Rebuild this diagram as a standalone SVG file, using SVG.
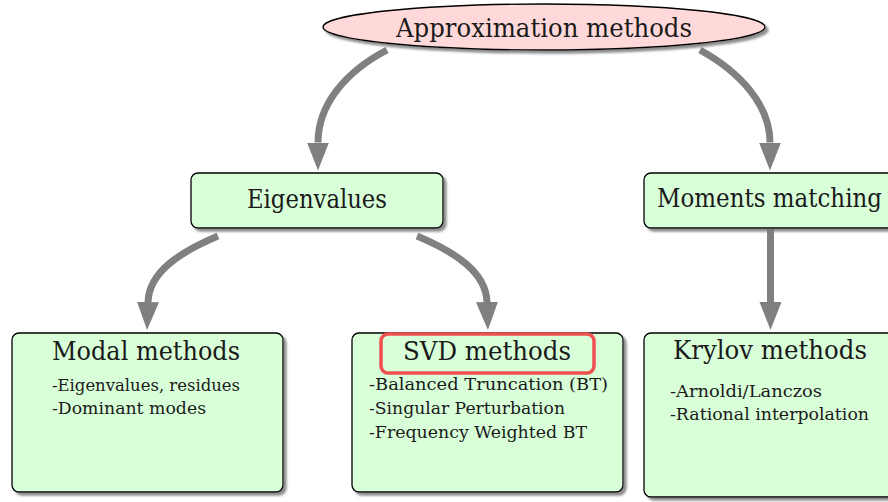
<svg xmlns="http://www.w3.org/2000/svg" width="888" height="502" viewBox="0 0 888 502">
<style>
.box{fill:#d9ffd9;stroke:#000;stroke-width:1.3}
.ell{fill:#ffd9d9;stroke:#000;stroke-width:1.3}
.hd{font-family:'DejaVu Serif',serif;font-size:26px;fill:#1a1a1a}
.sm{font-family:'DejaVu Serif',serif;font-size:16px;fill:#1a1a1a}
.con{fill:none;stroke:#808080;stroke-width:7}
</style>
<defs>
<filter id="sh" x="-10%" y="-10%" width="130%" height="140%">
<feGaussianBlur in="SourceAlpha" stdDeviation="1.2"/>
<feOffset dx="3" dy="3" result="b"/>
<feFlood flood-color="#7a7a7a" flood-opacity="0.85"/>
<feComposite in2="b" operator="in"/>
<feMerge><feMergeNode/><feMergeNode in="SourceGraphic"/></feMerge>
</filter>
<marker id="ah" markerUnits="userSpaceOnUse" markerWidth="30" markerHeight="24" refX="0" refY="11" orient="auto" viewBox="0 0 30 24">
<path d="M0,0 L28,11 L0,22 z" fill="#808080"/>
</marker>
</defs>
<g id="connectors">
<path class="con" marker-end="url(#ah)" d="M387,50 C345,72 318,105 318,142.5"/>
<path class="con" marker-end="url(#ah)" d="M700,50 C740,72 770,105 770,142.5"/>
<path class="con" marker-end="url(#ah)" d="M218,236 C180,252 149,272 148,302"/>
<path class="con" marker-end="url(#ah)" d="M417,236 C455,252 486,272 487,302"/>
<path class="con" marker-end="url(#ah)" d="M770.5,229 L770.5,302"/>
</g>
<g id="approx">
<ellipse class="ell" filter="url(#sh)" cx="544" cy="27" rx="221" ry="23"/>
<text class="hd" x="396" y="37" textLength="296" lengthAdjust="spacingAndGlyphs">Approximation methods</text>
</g>
<g id="eigen">
<rect class="box" filter="url(#sh)" x="191" y="173" width="252" height="55" rx="7"/>
<text class="hd" x="247" y="208" textLength="140" lengthAdjust="spacingAndGlyphs">Eigenvalues</text>
</g>
<g id="moments">
<rect class="box" filter="url(#sh)" x="644" y="173" width="270" height="55" rx="7"/>
<text class="hd" x="657" y="207" textLength="225" lengthAdjust="spacingAndGlyphs">Moments matching</text>
</g>
<g id="modal">
<rect class="box" filter="url(#sh)" x="12" y="333" width="271" height="159" rx="7"/>
<text class="hd" x="52" y="360" textLength="188" lengthAdjust="spacingAndGlyphs">Modal methods</text>
<text class="sm" x="52" y="391" textLength="188" lengthAdjust="spacingAndGlyphs">-Eigenvalues, residues</text>
<text class="sm" x="52" y="414" textLength="154" lengthAdjust="spacingAndGlyphs">-Dominant modes</text>
</g>
<g id="svd">
<rect class="box" filter="url(#sh)" x="352" y="333" width="271" height="159" rx="7"/>
<rect x="381" y="334" width="213" height="39" rx="7" fill="none" stroke="#f05050" stroke-width="3.5"/>
<text class="hd" x="403" y="360" textLength="168" lengthAdjust="spacingAndGlyphs">SVD methods</text>
<text class="sm" x="369" y="390" textLength="239" lengthAdjust="spacingAndGlyphs">-Balanced Truncation (BT)</text>
<text class="sm" x="369" y="414" textLength="196" lengthAdjust="spacingAndGlyphs">-Singular Perturbation</text>
<text class="sm" x="369" y="438" textLength="218" lengthAdjust="spacingAndGlyphs">-Frequency Weighted BT</text>
</g>
<g id="krylov">
<rect class="box" filter="url(#sh)" x="644" y="333" width="270" height="164" rx="7"/>
<text class="hd" x="673" y="359" textLength="194" lengthAdjust="spacingAndGlyphs">Krylov methods</text>
<text class="sm" x="670" y="397" textLength="152" lengthAdjust="spacingAndGlyphs">-Arnoldi/Lanczos</text>
<text class="sm" x="670" y="420" textLength="199" lengthAdjust="spacingAndGlyphs">-Rational interpolation</text>
</g>
</svg>
